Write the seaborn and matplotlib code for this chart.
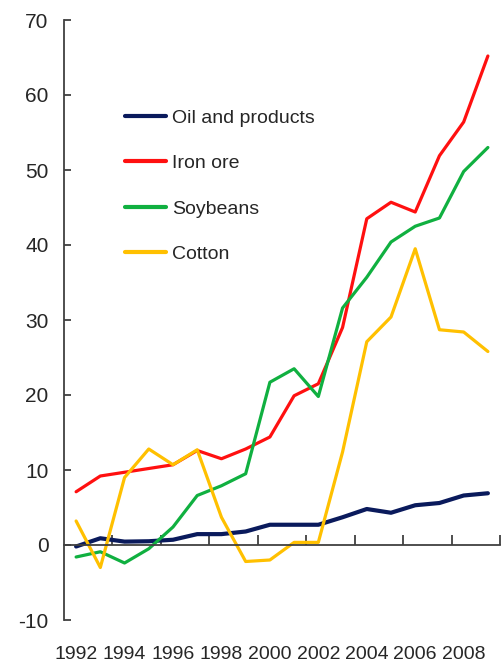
import numpy as np
import pandas as pd
import matplotlib
matplotlib.use("Agg")
import matplotlib.pyplot as plt
import seaborn as sns

years = list(range(1992, 2010))
oil = [-0.2, 0.9, 0.45, 0.5, 0.7, 1.45, 1.45, 1.8, 2.7, 2.7, 2.7, 3.7, 4.8, 4.3, 5.3, 5.6, 6.6, 6.9]
iron = [7.1, 9.2, 9.7, 10.2, 10.7, 12.6, 11.5, 12.8, 14.4, 19.9, 21.5, 29.0, 43.5, 45.7, 44.4, 51.9, 56.4, 65.2]
soy = [-1.6, -0.9, -2.4, -0.5, 2.4, 6.6, 7.9, 9.5, 21.7, 23.5, 19.8, 31.6, 35.7, 40.4, 42.5, 43.6, 49.8, 53.0]
cotton = [3.2, -3.0, 9.0, 12.8, 10.7, 12.7, 3.7, -2.2, -2.0, 0.35, 0.35, 12.4, 27.1, 30.4, 39.5, 28.7, 28.4, 25.8]
series_names = ["Oil and products", "Iron ore", "Soybeans", "Cotton"]
colors = ["#0A1A5C", "#FF1010", "#10B040", "#FFC000"]
ytick_vals = list(range(-10, 80, 10))
xtick_labels = list(range(1992, 2009, 2))

df = pd.concat([
    pd.DataFrame({"year": years, "value": vals, "series": name})
    for name, vals in zip(series_names, [oil, iron, soy, cotton])
])

sns.set_style("white")
plt.rcParams["font.family"] = ["Liberation Sans", "DejaVu Sans"]

fig = plt.figure(figsize=(5.02, 6.70), dpi=100)
ax = fig.add_axes([64 / 502, 50 / 670, 436 / 502, 600 / 670])

sns.lineplot(data=df, x="year", y="value", hue="series", hue_order=series_names,
             palette=colors, linewidth=2.3, ax=ax, legend=True)
ax.lines[0].set_linewidth(3.0)

ax.set_xlim(1991.5, 2009.5)
ax.set_ylim(-10, 70)
ax.set_xlabel("")
ax.set_ylabel("")

spine_color = "#404040"
for s in ["top", "right"]:
    ax.spines[s].set_visible(False)
ax.spines["left"].set_color(spine_color)
ax.spines["left"].set_linewidth(1.3)
ax.spines["bottom"].set_position(("data", 0))
ax.spines["bottom"].set_color(spine_color)
ax.spines["bottom"].set_linewidth(1.3)

ax.set_yticks(ytick_vals)
ax.set_yticklabels([str(v) for v in ytick_vals])
ax.tick_params(axis="y", direction="in", length=5, width=1.3, color=spine_color,
               labelsize=15, pad=11, left=True)
ax.set_xticks(np.arange(1993.5, 2010, 2))
ax.set_xticklabels([])
ax.tick_params(axis="x", direction="in", length=7, width=1.3, color=spine_color, bottom=True)

sec = ax.secondary_xaxis(0)
sec.set_xticks(xtick_labels)
sec.set_xticklabels([str(v) for v in xtick_labels])
sec.tick_params(axis="x", length=0, labelsize=14, pad=19)
sec.spines["bottom"].set_visible(False)

handles, labels = ax.get_legend_handles_labels()
leg = ax.legend(handles, labels, loc="center left", bbox_to_anchor=((125 - 64) / 436, (620 - 186) / 600),
                frameon=False, fontsize=14, handlelength=2.1, handletextpad=0.3,
                labelspacing=1.43, borderpad=0, borderaxespad=0)
for h in leg.get_lines():
    h.set_linewidth(3)

fig.savefig("out.png", dpi=100)
